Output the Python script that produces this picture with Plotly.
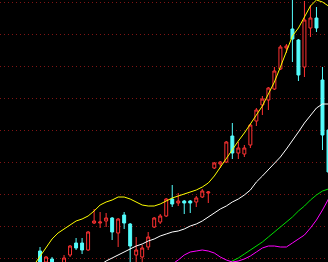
import plotly.graph_objects as go

# candle index (trading days)
days = list(range(49))

opens = [10.11, 10.00, 10.03, 9.92, 9.96, 10.07, 10.19, 10.19, 10.12, 10.39,
         10.39, 10.41, 10.44, 10.29, 10.47, 10.38, 10.07, 10.05, 10.15, 10.35,
         10.40, 10.46, 10.63, 10.59, 10.61, 10.61, 10.60, 10.65, 10.69, 10.94,
         10.98, 11.00, 11.26, 11.09, 11.08, 11.17, 11.41, 11.57, 11.62, 11.73,
         11.93, 12.14, 12.33, 12.22, 11.95, 12.34, 12.44, 11.82, 11.32]
closes = [9.96, 10.05, 9.97, 9.97, 10.04, 10.16, 10.14, 10.12, 10.30, 10.41,
          10.40, 10.44, 10.30, 10.43, 10.39, 10.16, 10.12, 10.14, 10.25, 10.44,
          10.46, 10.63, 10.58, 10.61, 10.59, 10.59, 10.64, 10.71, 10.70, 10.99,
          11.00, 11.20, 11.09, 11.14, 11.14, 11.37, 11.52, 11.63, 11.74, 11.91,
          12.15, 12.16, 12.23, 11.87, 12.42, 12.44, 12.34, 11.27, 10.90]
highs = [10.15, 10.06, 10.05, 9.98, 10.07, 10.17, 10.24, 10.24, 10.31, 10.53,
         10.50, 10.49, 10.45, 10.44, 10.50, 10.39, 10.25, 10.17, 10.30, 10.45,
         10.48, 10.64, 10.77, 10.69, 10.62, 10.62, 10.66, 10.73, 10.71, 11.00,
         11.01, 11.21, 11.39, 11.20, 11.17, 11.38, 11.54, 11.66, 11.75, 11.95,
         12.17, 12.18, 12.65, 12.23, 12.61, 12.57, 12.55, 11.95, 11.36]
lows = [9.94, 9.98, 9.95, 9.90, 9.94, 10.05, 10.12, 10.08, 10.11, 10.38,
        10.34, 10.35, 10.22, 10.15, 10.33, 9.98, 9.98, 9.98, 10.12, 10.34,
        10.38, 10.45, 10.55, 10.56, 10.48, 10.49, 10.55, 10.64, 10.59, 10.93,
        10.94, 10.99, 11.03, 11.03, 11.05, 11.14, 11.36, 11.47, 11.52, 11.72,
        11.92, 12.09, 12.00, 11.81, 11.85, 12.25, 12.30, 11.12, 10.87]

# moving averages
ma_yellow_days = list(range(-1, 49))
ma_yellow = [9.97, 10.06, 10.15, 10.23, 10.29, 10.33, 10.37, 10.41, 10.43, 10.46,
             10.51, 10.57, 10.60, 10.62, 10.65, 10.65, 10.63, 10.60, 10.57, 10.56,
             10.56, 10.58, 10.61, 10.64, 10.66, 10.68, 10.70, 10.72, 10.75, 10.79,
             10.86, 10.95, 11.04, 11.13, 11.21, 11.29, 11.38, 11.46, 11.56, 11.68,
             11.80, 11.95, 12.10, 12.26, 12.34, 12.45, 12.56, 12.62, 12.60, 12.56]

ma_white_days = list(range(8, 49))
ma_white = [9.89, 9.93, 9.97, 10.01, 10.04, 10.07, 10.10, 10.13, 10.16, 10.18,
            10.21, 10.23, 10.26, 10.28, 10.30, 10.31, 10.33, 10.36, 10.38, 10.41,
            10.45, 10.49, 10.53, 10.56, 10.60, 10.63, 10.67, 10.72, 10.80, 10.86,
            10.92, 10.99, 11.05, 11.13, 11.21, 11.30, 11.39, 11.47, 11.54, 11.58,
            11.58]

ma_green_days = list(range(29, 49))
ma_green = [9.92, 9.95, 9.98, 10.01, 10.04, 10.08, 10.12, 10.16, 10.20, 10.25,
            10.30, 10.35, 10.40, 10.45, 10.51, 10.56, 10.62, 10.67, 10.71, 10.73]

ma_magenta_days = list(range(21, 49))
ma_magenta = [9.94, 9.98, 10.02, 10.07, 10.10, 10.11, 10.12, 10.11, 10.09, 10.05,
              10.02, 10.00, 10.01, 10.03, 10.06, 10.10, 10.14, 10.16, 10.16, 10.15,
              10.15, 10.19, 10.23, 10.27, 10.34, 10.42, 10.52, 10.63]

grid_levels = [10.04, 10.36, 10.68, 11.00, 11.32, 11.64, 11.96, 12.28, 12.60]

fig = go.Figure()

fig.add_trace(go.Candlestick(
    x=days, open=opens, high=highs, low=lows, close=closes,
    increasing=dict(line=dict(color="#ff3232", width=1), fillcolor="#000000"),
    decreasing=dict(line=dict(color="#54fcfc", width=1), fillcolor="#54fcfc"),
    whiskerwidth=0, showlegend=False, hoverinfo="skip",
))

for xs, ys, col in [
    (ma_white_days, ma_white, "#ffffff"),
    (ma_yellow_days, ma_yellow, "#ffff00"),
    (ma_green_days, ma_green, "#00e000"),
    (ma_magenta_days, ma_magenta, "#ff00ff"),
]:
    fig.add_trace(go.Scatter(x=xs, y=ys, mode="lines",
                             line=dict(color=col, width=1),
                             showlegend=False, hoverinfo="skip"))

fig.update_layout(
    width=328, height=262,
    margin=dict(l=0, r=0, t=0, b=0),
    paper_bgcolor="#000000", plot_bgcolor="#000000",
    boxgap=0.3,
    xaxis=dict(range=[-6.66, 47.92], showgrid=False, zeroline=False,
               showticklabels=False, rangeslider=dict(visible=False),
               showline=False, fixedrange=True),
    yaxis=dict(range=[10.00, 12.62], tickvals=grid_levels, showticklabels=False,
               showgrid=True, gridcolor="#801414", gridwidth=1,
               griddash="1px,3px", zeroline=False, showline=False,
               fixedrange=True),
)

fig.write_html("out.html", config={"displayModeBar": False})
